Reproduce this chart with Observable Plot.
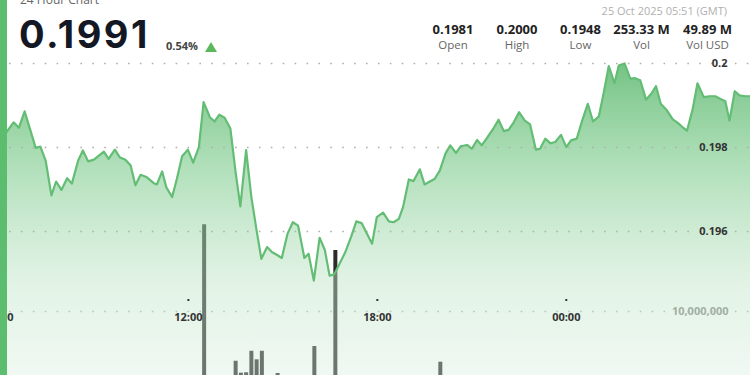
<!DOCTYPE html>
<html>
<head>
<meta charset="utf-8">
<script src="https://cdn.jsdelivr.net/npm/d3@7"></script>
<script src="https://cdn.jsdelivr.net/npm/@observablehq/plot@0.6"></script>
<style>
html,body{margin:0;padding:0;width:750px;height:375px;overflow:hidden;background:#fff;font-family:"Open Sans",sans-serif;}
#wrap{position:relative;width:750px;height:375px;overflow:hidden;}
#vol,#price{position:absolute;left:0;top:0;}
#leftbar{position:absolute;left:0;top:0;width:6.5px;height:375px;background:#5cbd6e;}
.abs{position:absolute;white-space:nowrap;}
#title{left:20px;top:-7px;font-size:12px;line-height:14px;color:#666;}
#last{left:19px;top:14px;font-family:Inter,"Open Sans",sans-serif;font-weight:700;font-size:38px;letter-spacing:2.5px;line-height:40px;color:#141824;}
#chg{left:166px;top:38px;font-size:11px;line-height:16px;font-weight:700;color:#444;}
#tri{left:205px;top:42px;width:0;height:0;border-left:6px solid transparent;border-right:6px solid transparent;border-bottom:10px solid #5cb85c;}
#stamp{right:23px;top:3px;font-size:11px;line-height:16px;color:#b0b0b0;}
.col{position:absolute;width:90px;text-align:center;}
.col .v{position:absolute;left:0;width:90px;top:22px;font-size:13px;line-height:14px;font-weight:700;color:#222;}
.col .l{position:absolute;left:0;width:90px;top:38.5px;font-size:11.5px;line-height:12px;color:#666;}
</style>
</head>
<body>
<div id="wrap">
  <div id="vol"></div>
  <div id="price"></div>
  <div id="leftbar"></div>
  <div id="title" class="abs">24 Hour Chart</div>
  <div id="last" class="abs"></div>
  <div id="chg" class="abs"></div>
  <div id="tri" class="abs"></div>
  <div id="stamp" class="abs"></div>
  <div id="stats"></div>
</div>
<script>
// ---------- data ----------
const headerTitle = "24 Hour Chart";
const lastPrice = "0.1991";
const changePct = "0.54%";
const stampText = "25 Oct 2025 05:51 (GMT)";
const statLabels = ["Open", "High", "Low", "Vol", "Vol USD"];
const statValues = ["0.1981", "0.2000", "0.1948", "253.33 M", "49.89 M"];
const statCenters = [453, 517, 580.5, 641.5, 707.5];

const viewStart = "2025-10-24 06:02";
const viewEnd = "2025-10-25 05:51";

const priceTimes = [
"2025-10-24 06:00","2025-10-24 06:13","2025-10-24 06:27","2025-10-24 06:37","2025-10-24 06:48","2025-10-24 06:58",
"2025-10-24 07:09","2025-10-24 07:18","2025-10-24 07:28","2025-10-24 07:39","2025-10-24 07:48","2025-10-24 07:58",
"2025-10-24 08:09","2025-10-24 08:18","2025-10-24 08:30","2025-10-24 08:39","2025-10-24 08:49","2025-10-24 09:00",
"2025-10-24 09:19","2025-10-24 09:28","2025-10-24 09:40","2025-10-24 09:49","2025-10-24 10:00","2025-10-24 10:10",
"2025-10-24 10:19","2025-10-24 10:29","2025-10-24 10:41","2025-10-24 10:54","2025-10-24 11:00","2025-10-24 11:10",
"2025-10-24 11:18","2025-10-24 11:29","2025-10-24 11:38","2025-10-24 11:48","2025-10-24 11:59","2025-10-24 12:09",
"2025-10-24 12:20","2025-10-24 12:29","2025-10-24 12:41","2025-10-24 12:50","2025-10-24 12:59","2025-10-24 13:09",
"2025-10-24 13:20","2025-10-24 13:30","2025-10-24 13:39","2025-10-24 13:50","2025-10-24 14:00","2025-10-24 14:10",
"2025-10-24 14:19","2025-10-24 14:30","2025-10-24 14:39","2025-10-24 14:49","2025-10-24 14:58","2025-10-24 15:09",
"2025-10-24 15:19","2025-10-24 15:29","2025-10-24 15:41","2025-10-24 15:49","2025-10-24 15:59","2025-10-24 16:10",
"2025-10-24 16:20","2025-10-24 16:29","2025-10-24 16:38","2025-10-24 16:48","2025-10-24 16:59","2025-10-24 17:10",
"2025-10-24 17:20","2025-10-24 17:30","2025-10-24 17:40","2025-10-24 17:50","2025-10-24 17:59","2025-10-24 18:11",
"2025-10-24 18:22","2025-10-24 18:31","2025-10-24 18:41","2025-10-24 18:49","2025-10-24 19:00","2025-10-24 19:09",
"2025-10-24 19:21","2025-10-24 19:30","2025-10-24 19:40","2025-10-24 19:49","2025-10-24 19:59","2025-10-24 20:10",
"2025-10-24 20:19","2025-10-24 20:30","2025-10-24 20:39","2025-10-24 20:51","2025-10-24 21:00","2025-10-24 21:10",
"2025-10-24 21:19","2025-10-24 21:29","2025-10-24 21:40","2025-10-24 21:51","2025-10-24 22:01","2025-10-24 22:10",
"2025-10-24 22:20","2025-10-24 22:30","2025-10-24 22:41","2025-10-24 22:51","2025-10-24 23:02","2025-10-24 23:10",
"2025-10-24 23:20","2025-10-24 23:30","2025-10-24 23:39","2025-10-24 23:50","2025-10-25 00:00","2025-10-25 00:09",
"2025-10-25 00:20","2025-10-25 00:30","2025-10-25 00:41","2025-10-25 00:51","2025-10-25 01:02","2025-10-25 01:11",
"2025-10-25 01:21","2025-10-25 01:32","2025-10-25 01:40","2025-10-25 01:51","2025-10-25 02:02","2025-10-25 02:11",
"2025-10-25 02:21","2025-10-25 02:32","2025-10-25 02:42","2025-10-25 02:51","2025-10-25 03:00","2025-10-25 03:12",
"2025-10-25 03:23","2025-10-25 03:33","2025-10-25 03:42","2025-10-25 03:50","2025-10-25 04:01","2025-10-25 04:10",
"2025-10-25 04:22","2025-10-25 04:33","2025-10-25 04:44","2025-10-25 04:53","2025-10-25 05:03","2025-10-25 05:11",
"2025-10-25 05:21","2025-10-25 05:30","2025-10-25 05:41","2025-10-25 05:51"
];
const priceValues = [
0.19833,0.19836,0.19860,0.19847,0.19886,0.19845,
0.19799,0.19802,0.19769,0.19686,0.19719,0.19699,
0.19727,0.19714,0.19769,0.19793,0.19767,0.19771,
0.19790,0.19773,0.19795,0.19777,0.19771,0.19757,
0.19710,0.19735,0.19729,0.19715,0.19712,0.19743,
0.19705,0.19682,0.19725,0.19779,0.19795,0.19764,
0.19801,0.19908,0.19872,0.19862,0.19878,0.19871,
0.19845,0.19741,0.19660,0.19794,0.19682,0.19602,
0.19535,0.19563,0.19551,0.19544,0.19537,0.19595,
0.19622,0.19614,0.19537,0.19547,0.19483,0.19585,
0.19556,0.19495,0.19498,0.19523,0.19551,0.19587,
0.19624,0.19620,0.19595,0.19571,0.19634,0.19645,
0.19624,0.19622,0.19630,0.19658,0.19724,0.19720,
0.19748,0.19712,0.19719,0.19725,0.19745,0.19786,
0.19805,0.19787,0.19803,0.19806,0.19797,0.19818,
0.19805,0.19823,0.19843,0.19866,0.19839,0.19842,
0.19860,0.19884,0.19864,0.19855,0.19795,0.19797,
0.19821,0.19810,0.19813,0.19830,0.19801,0.19817,
0.19821,0.19863,0.19904,0.19862,0.19874,0.19928,
0.19994,0.19953,0.19995,0.20000,0.19964,0.19965,
0.19960,0.19914,0.19928,0.19946,0.19904,0.19888,
0.19867,0.19858,0.19848,0.19840,0.19892,0.19953,
0.19920,0.19922,0.19922,0.19916,0.19910,0.19864,
0.19934,0.19924,0.19922,0.19922
];

const volTimes = ["2025-10-24 12:30","2025-10-24 13:30","2025-10-24 13:40","2025-10-24 13:50","2025-10-24 14:00",
  "2025-10-24 14:10","2025-10-24 14:20","2025-10-24 14:50","2025-10-24 16:00","2025-10-24 16:40","2025-10-24 20:00"];
const volValues = [17300000, 5820000, 4820000, 4850000, 6660000, 5940000, 6660000, 4790000, 7060000, 15130000, 5740000];

const timeTicks = ["2025-10-24 06:00","2025-10-24 12:00","2025-10-24 18:00","2025-10-25 00:00"];
const priceTicks = [0.196, 0.198, 0.2];
const volTicks = [10000000];
const priceDomain = [0.194, 0.2];
const areaBase = 0.1925;

// ---------- build ----------
const parseT = d3.utcParse("%Y-%m-%d %H:%M");
const priceData = priceTimes.map((t, i) => ({time: parseT(t), price: priceValues[i]}));
const volData = volTimes.map((t, i) => ({time: parseT(t), vol: volValues[i]}));
const xDomain = [parseT(viewStart), parseT(viewEnd)];
const tickDates = timeTicks.map(parseT);

const grid = {stroke: "#b0b0b0", strokeWidth: 1.6, strokeDasharray: "1.6 10.3", strokeDashoffset: -9};

const volPlot = Plot.plot({
  width: 750, height: 375,
  marginTop: 0, marginRight: 0, marginBottom: 0, marginLeft: 0,
  style: {background: "white", fontFamily: "Open Sans"},
  x: {type: "utc", domain: xDomain, axis: null},
  y: {domain: [0, 10000000], range: [430, 311], axis: null},
  marks: [
    Plot.ruleY(volTicks, grid),
    Plot.ruleX(volData, {x: "time", y1: 0, y2: "vol", stroke: "#2c2c2c", strokeWidth: 4}),
    Plot.text(volTicks, {y: d => d, text: d => d3.format(",")(d), frameAnchor: "right", textAnchor: "end", dx: -22,
      fill: "#868686", fontWeight: 700, fontSize: 11})
  ]
});
document.getElementById("vol").appendChild(volPlot);

const pricePlot = Plot.plot({
  width: 750, height: 375,
  marginTop: 0, marginRight: 0, marginBottom: 76, marginLeft: 0,
  style: {background: "transparent", fontFamily: "Open Sans"},
  x: {type: "utc", domain: xDomain},
  y: {domain: priceDomain, range: [315, 63], axis: null},
  marks: [
    Plot.areaY(priceData, {x: "time", y1: areaBase, y2: "price", fill: "url(#areaGrad)"}),
    Plot.ruleY(priceTicks, grid),
    Plot.lineY(priceData, {x: "time", y: "price", stroke: "#63bd74", strokeWidth: 2.2}),
    Plot.axisX(tickDates, {tickSize: 2, tickPadding: 12, tickFormat: d3.utcFormat("%H:%M"),
      stroke: "#333", strokeWidth: 2, fill: "#333", fontSize: 11, fontWeight: 700, label: null}),
    Plot.text(priceTicks, {y: d => d, text: d => String(d), frameAnchor: "right", textAnchor: "end", dx: -23,
      fill: "#333", fontWeight: 700, fontSize: 11})
  ]
});
const defs = d3.select(pricePlot).insert("defs", ":first-child");
const lg = defs.append("linearGradient").attr("id", "areaGrad").attr("x1", 0).attr("x2", 0).attr("y1", 0).attr("y2", 1);
[[0, "rgb(92,184,110)", 0.85], [0.35, "rgb(130,205,145)", 0.6], [0.7, "rgb(190,228,198)", 0.45], [1, "rgb(215,237,220)", 0.37]]
  .forEach(([o, c, a]) => lg.append("stop").attr("offset", o).attr("stop-color", c).attr("stop-opacity", a));
document.getElementById("price").appendChild(pricePlot);

// ---------- header ----------
document.getElementById("title").textContent = headerTitle;
document.getElementById("last").textContent = lastPrice;
document.getElementById("chg").textContent = changePct;
document.getElementById("stamp").textContent = stampText;
const stats = document.getElementById("stats");
statLabels.forEach((lab, i) => {
  const c = document.createElement("div");
  c.className = "col";
  c.style.left = (statCenters[i] - 45) + "px";
  c.style.top = "0px";
  const v = document.createElement("div"); v.className = "v"; v.textContent = statValues[i];
  const l = document.createElement("div"); l.className = "l"; l.textContent = lab;
  c.appendChild(v); c.appendChild(l); stats.appendChild(c);
});
</script>
</body>
</html>
